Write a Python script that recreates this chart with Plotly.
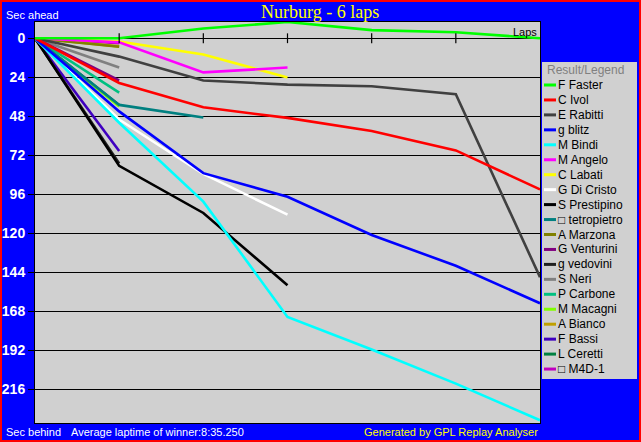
import plotly.graph_objects as go

# ---------------- data ----------------
laps = [0, 1, 2, 3, 4, 5, 6]
y_ticks = [0, 24, 48, 72, 96, 120, 144, 168, 192, 216]
lap_marks = [1, 2, 3, 4, 5]

drivers = ["F Faster", "C Ivol", "E Rabitti", "g blitz", "M Bindi", "M Angelo",
           "C Labati", "G Di Cristo", "S Prestipino", "\u25a1 tetropietro",
           "A Marzona", "G Venturini", "g vedovini", "S Neri", "P Carbone",
           "M Macagni", "A Bianco", "F Bassi", "L Ceretti", "\u25a1 M4D-1"]
colors = ["#00FF00", "#FF0000", "#404040", "#0000FF", "#00FFFF", "#FF00FF",
          "#FFFF00", "#FFFFFF", "#000000", "#008080",
          "#808000", "#800080", "#202020", "#808080", "#00C080",
          "#80FF00", "#C0A000", "#4000C0", "#008040", "#C000C0"]

f_faster = [0, 0, -6, -10, -5, -3.7, 0]
c_ivol = [0, 27.5, 42.5, 49, 57, 69, 93]
e_rabitti = [0, 11.3, 26, 28.5, 29.5, 34.5, 147]
g_blitz = [0, 45, 83, 97.5, 121, 140, 163]
m_bindi = [0, 52, 100.5, 171.5, 191.5, 212.5, 235]
m_angelo = [0, 2.5, 21, 18]
c_labati = [0, 2, 10, 24.2]
g_di_cristo = [0, 50, 83.5, 108.5]
s_prestipino = [0, 78.5, 107.5, 152]
d_tetropietro = [0, 41, 48.8]
a_marzona = [0, 5.2]
g_venturini = [0, 26]
g_vedovini = [0, 77]
s_neri = [0, 18]
p_carbone = [0, 33.5]
m_macagni = [0, 42]
a_bianco = [0, 5]
f_bassi = [0, 69.4]
l_ceretti = [0, 41]
d_m4d1 = [0, 3]

series = [f_faster, c_ivol, e_rabitti, g_blitz, m_bindi, m_angelo, c_labati,
          g_di_cristo, s_prestipino, d_tetropietro, a_marzona, g_venturini,
          g_vedovini, s_neri, p_carbone, m_macagni, a_bianco, f_bassi,
          l_ceretti, d_m4d1]

# ---------------- layout geometry (pixels) ----------------
W, H = 641, 442
L, R, T, B = 35, 540, 22, 423
PW, PH = R - L, B - T


def px(x):
    return (x - L) / PW


def py(y):
    return (B - y) / PH


fig = go.Figure()

# draw in reverse legend order so the leaders end up on top
for i in reversed(range(len(drivers))):
    vals = series[i]
    fig.add_trace(go.Scatter(
        x=laps[:len(vals)], y=vals, mode="lines", name=drivers[i],
        line=dict(color=colors[i], width=2.6), showlegend=False,
        hoverinfo="skip"))

# lap tick marks on the zero line
fig.add_trace(go.Scatter(
    x=lap_marks, y=[0] * len(lap_marks), mode="markers", showlegend=False,
    marker=dict(symbol="line-ns", size=7, line=dict(color="black", width=1.2)),
    hoverinfo="skip"))

shapes = []
annotations = []

# outer red frame
shapes.append(dict(type="rect", xref="paper", yref="paper",
                   x0=px(0), x1=px(W), y0=py(H), y1=py(0),
                   line=dict(color="#FF0000", width=4), layer="above"))

# legend box
leg_x0, leg_x1, leg_y0, leg_y1 = 542, 637, 62, 379
shapes.append(dict(type="rect", xref="paper", yref="paper",
                   x0=px(leg_x0), x1=px(leg_x1), y0=py(leg_y1), y1=py(leg_y0),
                   fillcolor="#D0D0D0", line=dict(width=0), layer="above"))
annotations.append(dict(text="Result/Legend", x=px(545), y=py(70),
                        xanchor="left", yanchor="middle",
                        font=dict(family="Liberation Sans", size=12, color="#808080")))
for i, name in enumerate(drivers):
    yy = 85 + 14.95 * i
    shapes.append(dict(type="line", xref="paper", yref="paper",
                       x0=px(544), x1=px(556), y0=py(yy), y1=py(yy),
                       line=dict(color=colors[i], width=3), layer="above"))
    annotations.append(dict(text=name, x=px(556), y=py(yy),
                            xanchor="left", yanchor="middle",
                            font=dict(family="Liberation Sans", size=12, color="black")))

# texts
annotations += [
    dict(text="Nurburg - 6 laps", x=px(320), y=py(12), xanchor="center",
         yanchor="middle", font=dict(family="Liberation Serif", size=18, color="#FFFF00")),
    dict(text="Sec ahead", x=px(4), y=py(15), xanchor="left", yanchor="middle",
         font=dict(family="Liberation Sans", size=11, color="white")),
    dict(text="Sec behind", x=px(4), y=py(432), xanchor="left", yanchor="middle",
         font=dict(family="Liberation Sans", size=11, color="white")),
    dict(text="Average laptime of winner:8:35.250", x=px(69), y=py(432),
         xanchor="left", yanchor="middle",
         font=dict(family="Liberation Sans", size=11, color="white")),
    dict(text="Generated by GPL Replay Analyser", x=px(540), y=py(432),
         xanchor="right", yanchor="middle",
         font=dict(family="Liberation Sans", size=11, color="#FFFF00")),
    dict(text="Laps", x=px(539), y=py(32), xanchor="right", yanchor="middle",
         font=dict(family="Liberation Sans", size=11, color="black")),
]
for a in annotations:
    a.setdefault("xref", "paper")
    a.setdefault("yref", "paper")
    a.setdefault("showarrow", False)

fig.update_layout(
    width=W, height=H,
    margin=dict(l=L, r=W - R, t=T, b=H - B, pad=0, autoexpand=False),
    paper_bgcolor="#0000FF",
    plot_bgcolor="#D0D0D0",
    showlegend=False,
    hovermode=False,
    shapes=shapes,
    annotations=annotations,
    xaxis=dict(range=[0, 6], showgrid=False, zeroline=False, showticklabels=False,
               ticks="", showline=True, mirror=True, linecolor="black", linewidth=1,
               automargin=False, fixedrange=True),
    yaxis=dict(range=[236.7, -10], tickmode="array", tickvals=y_ticks,
               ticktext=[str(v) for v in y_ticks],
               showgrid=True, gridcolor="black", gridwidth=1, zeroline=False,
               ticks="outside", ticklen=6, tickcolor="black", tickwidth=1,
               tickfont=dict(family="Liberation Sans", size=14, color="white",
                             weight="bold"),
               showline=True, mirror=True, linecolor="black", linewidth=1,
               automargin=False, fixedrange=True),
)

fig.write_html("out.html",
               config={"displayModeBar": False, "staticPlot": True},
               post_script="document.body.style.margin='0px';"
                           "document.body.style.overflow='hidden';")
